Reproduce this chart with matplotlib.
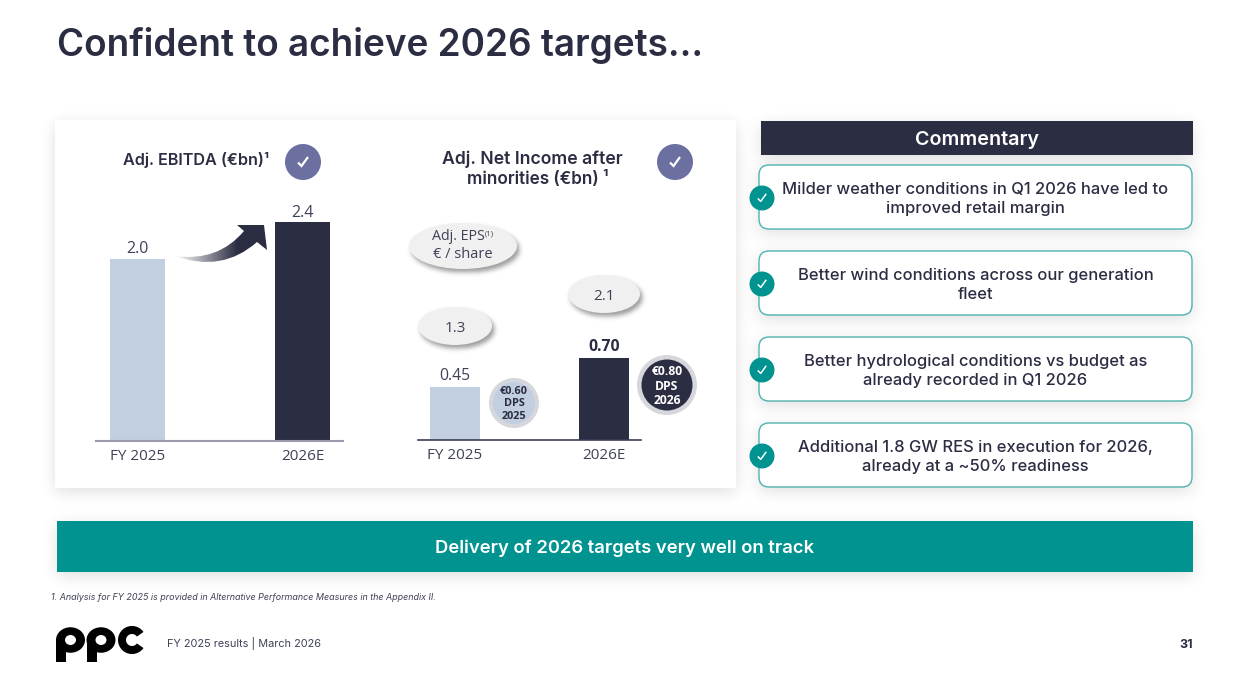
import numpy as np
import matplotlib
matplotlib.use('Agg')
import matplotlib.pyplot as plt
from matplotlib.patches import Circle, Ellipse, FancyBboxPatch, PathPatch, Rectangle, Wedge
from matplotlib.path import Path

# figures from the slide
periods = ['FY 2025', '2026E']
ebitda = [2.0, 2.4]
net_income = [0.45, 0.70]
eps = [1.3, 2.1]
dps = [0.60, 0.80]
dps_years = ['2025', '2026']
commentary = [
    'Milder weather conditions in Q1 2026 have led to\nimproved retail margin',
    'Better wind conditions across our generation\nfleet',
    'Better hydrological conditions vs budget as\nalready recorded in Q1 2026',
    'Additional 1.8 GW RES in execution for 2026,\nalready at a ~50% readiness',
]

W, H = 1244, 697
NAVY = '#2b2d42'
LABEL = '#3f4156'
LIGHT = '#c2cfe1'
TEAL = '#00938f'
PURPLE = '#6b70a0'
HEAD = 'Inter'
BODY = 'Open Sans'


def blur(mask, sigma):
    radius = int(3 * sigma)
    kernel = np.exp(-0.5 * (np.arange(-radius, radius + 1) / sigma) ** 2)
    kernel /= kernel.sum()
    mask = np.apply_along_axis(lambda r: np.convolve(r, kernel, mode='same'), 0, mask)
    return np.apply_along_axis(lambda r: np.convolve(r, kernel, mode='same'), 1, mask)


def draw_shadow(ax, mask, sigma, strength, zorder):
    rgba = np.zeros((H, W, 4))
    rgba[..., 3] = blur(mask, sigma) * strength
    ax.imshow(rgba, extent=(0, W, H, 0), aspect='auto', zorder=zorder, interpolation='bilinear')


def check_mark(ax, x, y, scale, lw, zorder=6):
    ax.plot([x - 5 * scale, x - 1.5 * scale, x + 5 * scale],
            [y + 0.5 * scale, y + 4 * scale, y - 5 * scale],
            color='white', lw=lw, solid_joinstyle='miter', solid_capstyle='butt', zorder=zorder)


fig = plt.figure(figsize=(W / 100, H / 100), dpi=100, facecolor='white')
bg = fig.add_axes([0, 0, 1, 1])
bg.axis('off')

# soft drop shadows under the panels
yy, xx = np.mgrid[0:H, 0:W]
panels = np.zeros((H, W))
boxes = [(55, 120, 736, 488), (761, 121, 1193, 155), (759, 165, 1192, 229), (759, 251, 1192, 315),
         (759, 337, 1192, 401), (759, 423, 1192, 487), (57, 521, 1193, 572)]
for x0, y0, x1, y1 in boxes:
    panels[y0 + 4:y1 + 4, x0:x1] = 1
draw_shadow(bg, panels, 8, 0.13, 1)

# harder shadow for the bubbles
bubbles = [(463, 246, 108, 46), (455, 326, 74, 38), (604, 294, 72, 38)]
bubble_mask = np.zeros((H, W))
for cx, cy, bw, bh in bubbles:
    inside = ((xx - cx - 2) / (bw / 2)) ** 2 + ((yy - cy - 3) / (bh / 2)) ** 2 <= 1
    bubble_mask[inside] = 1
draw_shadow(bg, bubble_mask, 2.5, 0.4, 2.5)

bg.set_xlim(0, W)
bg.set_ylim(H, 0)

bg.text(57, 46, 'Confident to achieve 2026 targets...', family=HEAD, fontweight='semibold',
        fontsize=26.55, color=NAVY, ha='left', va='center')

# chart panel
bg.add_patch(Rectangle((55, 120), 681, 368, fc='white', ec='none', zorder=2))

bg.text(196, 160, 'Adj. EBITDA (\u20acbn)\u00b9', family=HEAD, fontweight='semibold', fontsize=11.65,
        color=NAVY, ha='center', va='center', zorder=3)
bg.text(532.5, 159, 'Adj. Net Income after', family=HEAD, fontweight='semibold', fontsize=12.7,
        color=NAVY, ha='center', va='center', zorder=3)
bg.text(537.5, 179, 'minorities (\u20acbn) \u00b9', family=HEAD, fontweight='semibold', fontsize=12.3,
        color=NAVY, ha='center', va='center', zorder=3)
for cx in (303, 675):
    bg.add_patch(Circle((cx, 162), 18, fc=PURPLE, ec='none', zorder=3))
    check_mark(bg, cx, 162, 1, 1.6)


def bar_axes(x0, x1, base, top, centres, bar_w):
    # inset with one category unit equal to the spacing of the two bars
    ax = fig.add_axes([x0 / W, 1 - base / H, (x1 - x0) / W, (base - top) / H], zorder=3)
    ax.patch.set_alpha(0)
    step = centres[1] - centres[0]
    ax.set_xlim((x0 - centres[0]) / step, (x1 - centres[0]) / step)
    for side in ('top', 'left', 'right'):
        ax.spines[side].set_visible(False)
    ax.set_yticks([])
    ax.set_xticks([0, 1], periods, family=BODY, fontsize=11, color=LABEL)
    ax.tick_params(axis='x', length=0, pad=6)
    return ax, bar_w / step


# Adj. EBITDA bars
ax1, w1 = bar_axes(96, 343, 440.5, 190, (137.5, 302.5), 55)
ax1.set_ylim(0, 250.5 / 91)
ax1.spines['bottom'].set_color('#9a9cae')
ax1.spines['bottom'].set_linewidth(1.5)
ax1.bar([0, 1], ebitda, width=w1, color=[LIGHT, NAVY])
for i, v in enumerate(ebitda):
    ax1.annotate(f'{v:.1f}', (i, v), xytext=(0, 1), textcoords='offset points', ha='center',
                 va='bottom', family=BODY, fontsize=11.5, color=LABEL)

# Adj. net income bars
ax2, w2 = bar_axes(418, 641, 439.5, 329.5, (455, 604), 50)
ax2.set_ylim(0, 110 / 116)
ax2.spines['bottom'].set_color('#3a3c58')
ax2.spines['bottom'].set_linewidth(1.2)
ax2.bar([0, 1], net_income, width=w2, color=[LIGHT, NAVY])
for i, v in enumerate(net_income):
    ax2.annotate(f'{v:.2f}', (i, v), xytext=(0, 2.5), textcoords='offset points', ha='center',
                 va='bottom', family=BODY, fontsize=11.3, color=NAVY if i else LABEL,
                 fontweight='bold' if i else 'normal')

# growth arrow between the EBITDA bars, faded towards its tail
arrow = Path(
    [(175, 256), (222, 273), (257, 242), (267, 250), (264, 225), (237, 225), (244, 231),
     (218, 262), (175, 256), (175, 256)],
    [Path.MOVETO, Path.CURVE3, Path.CURVE3, Path.LINETO, Path.LINETO, Path.LINETO, Path.LINETO,
     Path.CURVE3, Path.CURVE3, Path.CLOSEPOLY])
fade = np.ones((2, 256, 4))
fade[..., :3] = matplotlib.colors.to_rgb(NAVY)
fade[..., 3] = np.clip((np.linspace(175, 268, 256) - 175) / 62, 0, 1)
img = bg.imshow(fade, extent=(175, 268, 264, 224), aspect='auto', zorder=4)
clip = PathPatch(arrow, transform=bg.transData, fc='none', ec='none')
bg.add_patch(clip)
img.set_clip_path(clip)

# EPS bubbles
for cx, cy, bw, bh in bubbles:
    bg.add_patch(Ellipse((cx, cy), bw, bh, fc='#f0f0f0', ec='none', zorder=3))
bg.text(458, 237, 'Adj. EPS', family=BODY, fontsize=10.3, color=LABEL, ha='center', va='center', zorder=4)
bg.text(489, 234, '(1)', family=BODY, fontsize=5.5, color=LABEL, ha='center', va='center', zorder=4)
bg.text(463, 254, '\u20ac / share', family=BODY, fontsize=10.5, color=LABEL, ha='center', va='center', zorder=4)
for (cx, cy, _, _), v in zip(bubbles[1:], eps):
    bg.text(cx, cy + 2, f'{v:.1f}', family=BODY, fontsize=11, color=LABEL, ha='center', va='center', zorder=4)

# DPS badges
badges = [(514, 403, 25, 21, LIGHT, NAVY, 7.8), (667, 385, 30, 25.5, NAVY, 'white', 8.7)]
for (cx, cy, outer, inner, fill, ink, size), v, year in zip(badges, dps, dps_years):
    bg.add_patch(Circle((cx, cy), outer, fc='#d6d7dc', ec='none', zorder=5))
    bg.add_patch(Circle((cx, cy), inner, fc=fill, ec='none', zorder=5))
    bg.text(cx, cy + 1, f'\u20ac{v:.2f}\nDPS\n{year}', family=BODY, fontweight='bold', fontsize=size,
            color=ink, ha='center', va='center', linespacing=1.15, zorder=6)

# commentary column
bg.add_patch(Rectangle((761, 121), 432, 34, fc=NAVY, ec='none', zorder=2))
bg.text(977, 140, 'Commentary', family=HEAD, fontweight='semibold', fontsize=14.2, color='white',
        ha='center', va='center', zorder=3)
card_tops = [165, 251, 337, 423]
for top, note in zip(card_tops, commentary):
    bg.add_patch(FancyBboxPatch((759, top), 433, 64, boxstyle='round,pad=0,rounding_size=10',
                                fc='white', ec='#4db3b0', lw=1.0, zorder=2))
    bg.text(975.5, top + 34, note, family=HEAD, fontweight='medium', fontsize=11.9, color=NAVY,
            ha='center', va='center', linespacing=1.33, zorder=3)
    bg.add_patch(Circle((762, top + 33), 12.5, fc=TEAL, ec='none', zorder=3))
    check_mark(bg, 762, top + 33, 0.85, 1.1, zorder=4)

# conclusion band
bg.add_patch(Rectangle((57, 521), 1136, 51, fc=TEAL, ec='none', zorder=2))
bg.text(625, 548, 'Delivery of 2026 targets very well on track', family=HEAD, fontweight='semibold',
        fontsize=13.3, color='white', ha='center', va='center', zorder=3)

bg.text(51, 597, '1. Analysis for FY 2025 is provided in Alternative Performance Measures in the Appendix II.',
        family=HEAD, style='italic', fontsize=6.45, color=LABEL, ha='left', va='center', zorder=3)

# ppc logo
for cx in (70.5, 101):
    bg.add_patch(Ellipse((cx, 640), 29, 25.5, fc='black', ec='none', zorder=3))
    bg.add_patch(Rectangle((cx - 14.5, 640), 10, 22, fc='black', ec='none', zorder=3))
    bg.add_patch(Ellipse((cx, 640), 11, 10, fc='white', ec='none', zorder=4))
bg.add_patch(Wedge((132, 640), 14, 35, 325, width=8, fc='black', ec='none', zorder=3))

bg.text(167, 643, 'FY 2025 results | March 2026', family=HEAD, fontsize=7.85, color=LABEL,
        ha='left', va='center', zorder=3)
bg.text(1193, 645, '31', family=HEAD, fontweight='bold', fontsize=9, color=NAVY,
        ha='right', va='center', zorder=3)

fig.savefig('out.png', dpi=100)
